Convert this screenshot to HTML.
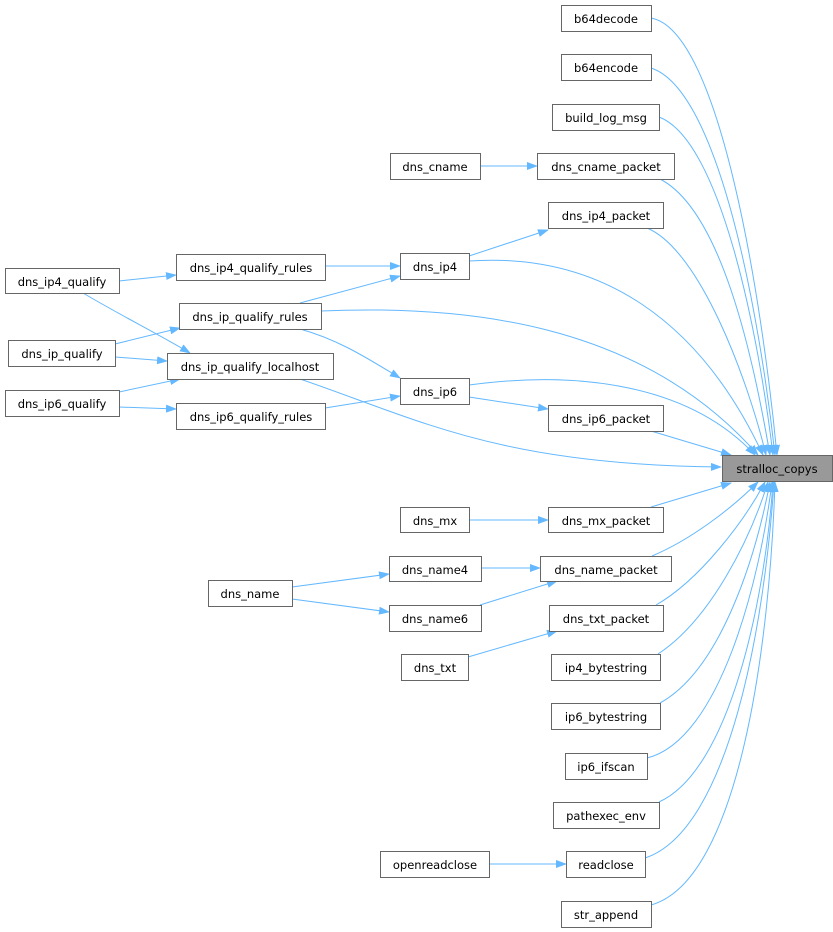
<!DOCTYPE html>
<html><head><meta charset="utf-8"><style>
html,body{margin:0;padding:0;background:#fff;}
svg{display:block}
text{font-family:"DejaVu Sans","Liberation Sans",sans-serif;font-size:11.5px;fill:#000;text-anchor:middle}
.n{fill:#fff;stroke:#666;stroke-width:1}
.e{fill:none;stroke:#63b8ff;stroke-width:1}
</style></head><body>
<svg width="833" height="932" viewBox="0 0 833 932">
<defs><marker id="a" markerWidth="11" markerHeight="8" refX="10" refY="4" orient="auto" markerUnits="userSpaceOnUse"><path d="M0,0 L11,4 L0,8 z" fill="#63b8ff"/></marker></defs>
<g class="e" marker-end="url(#a)">
<path d="M651,18 C720,30 762,300 777,455"/>
<path d="M651,68 C720,90 760,320 775,455"/>
<path d="M659,117 C720,140 758,330 773,455"/>
<path d="M660,179 C720,210 752,350 770,455"/>
<path d="M647,228 C700,250 748,380 766,455"/>
<path d="M469,261 C600,252 700,320 763,455"/>
<path d="M321,311 C460,305 640,320 758,455"/>
<path d="M469,385 C580,370 690,385 755,455"/>
<path d="M651,431 L731,455"/>
<path d="M300,379 C420,420 500,465 721,467"/>
<path d="M651,507 L731,483"/>
<path d="M652,556 C690,540 730,510 758,482"/>
<path d="M656,605 C700,580 745,520 765,482"/>
<path d="M658,654 C710,620 750,540 768,482"/>
<path d="M660,703 C720,670 755,560 770,482"/>
<path d="M647,758 C720,740 760,580 772,482"/>
<path d="M659,802 C730,770 765,600 773,482"/>
<path d="M645,858 C730,830 765,620 774,482"/>
<path d="M651,905 C740,880 770,640 775,482"/>
<path d="M480,166 L537,166"/>
<path d="M469,256 L548,230"/>
<path d="M325,266 L400,266"/>
<path d="M300,303 L400,276"/>
<path d="M300,329 C340,340 370,360 400,378"/>
<path d="M325,408 L400,396"/>
<path d="M469,397 L548,409"/>
<path d="M119,281 L176,275"/>
<path d="M83,293 C120,315 160,335 190,353"/>
<path d="M115,344 L180,328"/>
<path d="M115,357 L167,361"/>
<path d="M119,392 L180,379"/>
<path d="M119,407 L176,409"/>
<path d="M469,520 L548,520"/>
<path d="M481,568 L540,568"/>
<path d="M480,605 L557,581"/>
<path d="M292,587 L389,574"/>
<path d="M292,599 L389,612"/>
<path d="M468,657 L557,631"/>
<path d="M489,864 L566,864"/>
</g>
<g>
<rect class="n" x="561.5" y="5.5" width="90" height="26"/><text x="606" y="23">b64decode</text>
<rect class="n" x="561.5" y="54.5" width="90" height="26"/><text x="606" y="72">b64encode</text>
<rect class="n" x="552.5" y="104.5" width="107" height="26"/><text x="606" y="122">build_log_msg</text>
<rect class="n" x="537.5" y="153.5" width="137" height="26"/><text x="606" y="171">dns_cname_packet</text>
<rect class="n" x="390.5" y="153.5" width="90" height="26"/><text x="435" y="171">dns_cname</text>
<rect class="n" x="548.5" y="202.5" width="115" height="26"/><text x="606" y="220">dns_ip4_packet</text>
<rect class="n" x="400.5" y="253.5" width="69" height="26"/><text x="435" y="271">dns_ip4</text>
<rect class="n" x="400.5" y="378.5" width="69" height="26"/><text x="435" y="396">dns_ip6</text>
<rect class="n" x="548.5" y="405.5" width="115" height="26"/><text x="606" y="423">dns_ip6_packet</text>
<rect x="722.5" y="455.5" width="110" height="26" fill="#999" stroke="#666"/><text x="777" y="473">stralloc_copys</text>
<rect class="n" x="5.5" y="268.5" width="114" height="25"/><text x="62" y="286">dns_ip4_qualify</text>
<rect class="n" x="176.5" y="254.5" width="149" height="26"/><text x="251" y="272">dns_ip4_qualify_rules</text>
<rect class="n" x="179.5" y="303.5" width="142" height="26"/><text x="250" y="321">dns_ip_qualify_rules</text>
<rect class="n" x="8.5" y="340.5" width="107" height="26"/><text x="62" y="358">dns_ip_qualify</text>
<rect class="n" x="167.5" y="353.5" width="166" height="26"/><text x="250" y="371">dns_ip_qualify_localhost</text>
<rect class="n" x="5.5" y="390.5" width="114" height="26"/><text x="62" y="408">dns_ip6_qualify</text>
<rect class="n" x="176.5" y="403.5" width="149" height="26"/><text x="251" y="421">dns_ip6_qualify_rules</text>
<rect class="n" x="400.5" y="507.5" width="69" height="25"/><text x="435" y="525">dns_mx</text>
<rect class="n" x="548.5" y="507.5" width="115" height="25"/><text x="606" y="525">dns_mx_packet</text>
<rect class="n" x="389.5" y="556.5" width="92" height="25"/><text x="435" y="574">dns_name4</text>
<rect class="n" x="540.5" y="556.5" width="131" height="25"/><text x="606" y="574">dns_name_packet</text>
<rect class="n" x="208.5" y="580.5" width="84" height="26"/><text x="250" y="598">dns_name</text>
<rect class="n" x="389.5" y="605.5" width="92" height="26"/><text x="435" y="623">dns_name6</text>
<rect class="n" x="549.5" y="605.5" width="114" height="26"/><text x="606" y="623">dns_txt_packet</text>
<rect class="n" x="401.5" y="654.5" width="67" height="26"/><text x="435" y="672">dns_txt</text>
<rect class="n" x="551.5" y="654.5" width="109" height="26"/><text x="606" y="672">ip4_bytestring</text>
<rect class="n" x="551.5" y="703.5" width="109" height="26"/><text x="606" y="721">ip6_bytestring</text>
<rect class="n" x="565.5" y="753.5" width="82" height="26"/><text x="606" y="771">ip6_ifscan</text>
<rect class="n" x="553.5" y="802.5" width="106" height="26"/><text x="606" y="820">pathexec_env</text>
<rect class="n" x="380.5" y="851.5" width="109" height="26"/><text x="435" y="869">openreadclose</text>
<rect class="n" x="566.5" y="851.5" width="79" height="26"/><text x="606" y="869">readclose</text>
<rect class="n" x="561.5" y="901.5" width="90" height="26"/><text x="606" y="919">str_append</text>
</g>
</svg>
</body></html>
